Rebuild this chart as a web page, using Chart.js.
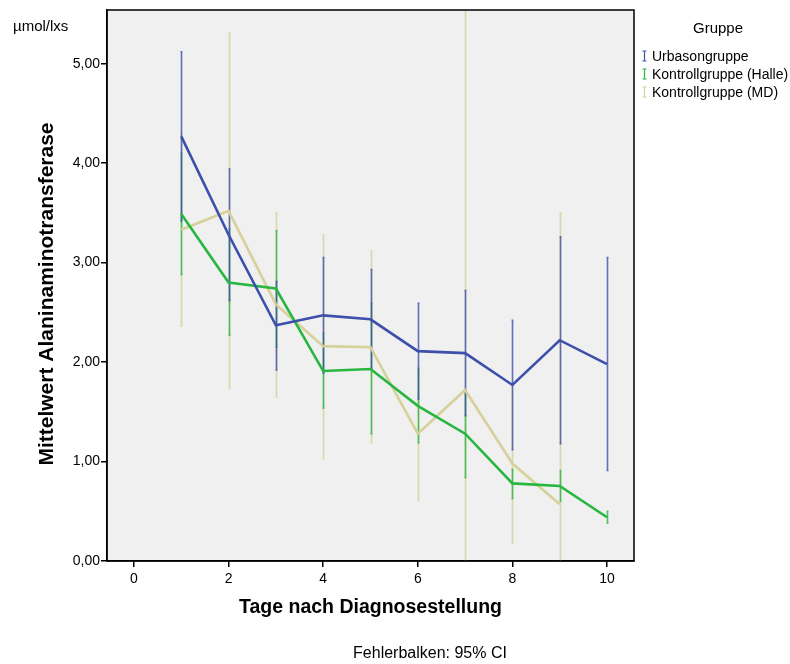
<!DOCTYPE html>
<html>
<head>
<meta charset="utf-8">
<script src="https://cdn.jsdelivr.net/npm/chart.js@4.4.1/dist/chart.umd.min.js"></script>
<style>
  html, body { margin: 0; padding: 0; background: #fff; }
  #wrap { width: 790px; height: 664px; position: relative; }
</style>
</head>
<body>
<div id="wrap"><canvas id="c" width="790" height="664"></canvas></div>
<script>
// Tage 1..10, Mittelwerte mit 95%-KI je Gruppe
const days = [1, 2, 3, 4, 5, 6, 7, 8, 9, 10];

const urbasonMean  = [4.27, 3.28, 2.37, 2.47, 2.43, 2.11, 2.09, 1.77, 2.22, 1.98];
const urbasonLower = [3.42, 2.62, 1.92, 1.89, 1.93, 1.63, 1.46, 1.12, 1.18, 0.91];
const urbasonUpper = [5.12, 3.94, 2.81, 3.05, 2.93, 2.59, 2.72, 2.42, 3.26, 3.05];

const halleMean  = [3.49, 2.80, 2.74, 1.91, 1.93, 1.56, 1.28, 0.78, 0.755, 0.44];
const halleLower = [2.88, 2.27, 2.15, 1.54, 1.28, 1.19, 0.84, 0.63, 0.60, 0.38];
const halleUpper = [4.10, 3.34, 3.32, 2.29, 2.59, 1.93, 1.72, 0.92, 0.91, 0.50];

const mdMean  = [3.33, 3.52, 2.58, 2.16, 2.15, 1.28, 1.72, 0.98, 0.57, null];
const mdLower = [2.36, 1.74, 1.65, 1.03, 1.19, 0.61, -2.58, 0.18, -2.36, null];
const mdUpper = [4.30, 5.31, 3.50, 3.28, 3.12, 1.95, 6.02, 1.78, 3.50, null];

const groupLabels = ['Urbasongruppe', 'Kontrollgruppe (Halle)', 'Kontrollgruppe (MD)'];
const xTicks = [0, 2, 4, 6, 8, 10];
const yTicks = [0, 1, 2, 3, 4, 5];

const COL = { blue: '#3c4fab', green: '#27b640', khaki: '#d6d09a' };
const FONT = '"Liberation Sans", Arial, sans-serif';

const pts = (ys) => days.map((d, i) => ({ x: d, y: ys[i] })).filter(p => p.y !== null);

const groups = [
  { label: groupLabels[0], color: COL.blue,  mean: urbasonMean, lo: urbasonLower, hi: urbasonUpper },
  { label: groupLabels[1], color: COL.green, mean: halleMean,   lo: halleLower,   hi: halleUpper },
  { label: groupLabels[2], color: COL.khaki, mean: mdMean,      lo: mdLower,      hi: mdUpper },
];

// grauer Plotbereich + Rahmen
const frame = {
  id: 'frame',
  beforeDraw(chart) {
    const { ctx, chartArea: a } = chart;
    ctx.save();
    ctx.fillStyle = '#f0f0f0';
    ctx.fillRect(a.left, a.top, a.right - a.left, a.bottom - a.top);
    ctx.restore();
  },
  afterDraw(chart) {
    const { ctx, chartArea: a } = chart;
    ctx.save();
    ctx.strokeStyle = '#000'; ctx.lineWidth = 1.5;
    ctx.strokeRect(a.left, a.top, a.right - a.left, a.bottom - a.top);
    ctx.restore();
  },
};

// Fehlerbalken (95% KI), unter den Linien
const errorBars = {
  id: 'errorBars',
  beforeDatasetsDraw(chart) {
    const { ctx, chartArea: a, scales: { x, y } } = chart;
    ctx.save();
    ctx.beginPath(); ctx.rect(a.left, a.top, a.right - a.left, a.bottom - a.top); ctx.clip();
    ctx.lineWidth = 1.6;
    ctx.globalAlpha = 0.8;
    [2, 1, 0].forEach(gi => {
      const g = groups[gi];
      ctx.strokeStyle = g.color;
      days.forEach((d, i) => {
        if (g.lo[i] === null) return;
        const px = Math.round(x.getPixelForValue(d)) + 0.5;
        const y1 = y.getPixelForValue(g.hi[i]), y2 = y.getPixelForValue(g.lo[i]);
        ctx.beginPath();
        ctx.moveTo(px, y1); ctx.lineTo(px, y2);
        ctx.moveTo(px - 1, y1); ctx.lineTo(px + 1, y1);
        ctx.moveTo(px - 1, y2); ctx.lineTo(px + 1, y2);
        ctx.stroke();
      });
    });
    ctx.restore();
  },
};

// Achsentitel, Einheit, Legende, Fußnote
const labels = {
  id: 'labels',
  afterDraw(chart) {
    const { ctx, chartArea: a } = chart;
    ctx.save();
    ctx.fillStyle = '#000';
    ctx.textAlign = 'center'; ctx.textBaseline = 'middle';
    ctx.font = 'bold 19.5px ' + FONT;
    ctx.fillText('Tage nach Diagnosestellung', (a.left + a.right) / 2, 608);
    ctx.save();
    ctx.font = 'bold 21px ' + FONT;
    ctx.translate(47, 294); ctx.rotate(-Math.PI / 2);
    ctx.fillText('Mittelwert Alaninaminotransferase', 0, 0);
    ctx.restore();

    ctx.font = '15px ' + FONT;
    ctx.textAlign = 'left';
    ctx.fillText('µmol/lxs', 13, 27);
    ctx.font = '16px ' + FONT;
    ctx.textAlign = 'center';
    ctx.fillText('Fehlerbalken: 95% CI', 430, 654);

    ctx.font = '15px ' + FONT;
    ctx.fillText('Gruppe', 718, 29);
    ctx.font = '14px ' + FONT;
    ctx.textAlign = 'left';
    groups.forEach((g, i) => {
      const yy = 56 + i * 18;
      ctx.strokeStyle = g.color; ctx.lineWidth = 1.2;
      ctx.beginPath();
      ctx.moveTo(644.5, yy - 5); ctx.lineTo(644.5, yy + 5);
      ctx.moveTo(642.5, yy - 5); ctx.lineTo(646.5, yy - 5);
      ctx.moveTo(642.5, yy + 5); ctx.lineTo(646.5, yy + 5);
      ctx.stroke();
      ctx.fillStyle = '#000';
      ctx.fillText(g.label, 652, yy + 1);
    });
    ctx.restore();
  },
};

new Chart(document.getElementById('c'), {
  type: 'line',
  data: {
    datasets: groups.map(g => ({
      label: g.label,
      data: pts(g.mean),
      borderColor: g.color,
      borderWidth: 2.6,
      pointRadius: 0,
      tension: 0,
      fill: false,
    })),
  },
  options: {
    responsive: false,
    animation: false,
    layout: { padding: { top: 10, right: 156, left: 0, bottom: 0 } },
    plugins: { legend: { display: false }, tooltip: { enabled: false } },
    scales: {
      x: {
        type: 'linear', min: -0.57, max: 10.57,
        afterBuildTicks: s => { s.ticks = xTicks.map(v => ({ value: v })); },
        afterFit: s => { s.height = 103; },
        grid: { drawOnChartArea: false, drawTicks: true, tickLength: 6, color: '#000', lineWidth: 1.5 },
        border: { display: true, color: '#000', width: 1.5 },
        ticks: { color: '#000', font: { family: FONT, size: 14 }, padding: 4, maxRotation: 0 },
      },
      y: {
        min: 0, max: 5.54,
        afterBuildTicks: s => { s.ticks = yTicks.map(v => ({ value: v })); },
        afterFit: s => { s.width = 107; },
        grid: { drawOnChartArea: false, drawTicks: true, tickLength: 6, color: '#000', lineWidth: 1.5 },
        border: { display: true, color: '#000', width: 1.5 },
        ticks: { color: '#000', font: { family: FONT, size: 14 }, padding: 1,
          callback: v => v.toFixed(2).replace('.', ',') },
      },
    },
  },
  plugins: [frame, errorBars, labels],
});
</script>
</body>
</html>
